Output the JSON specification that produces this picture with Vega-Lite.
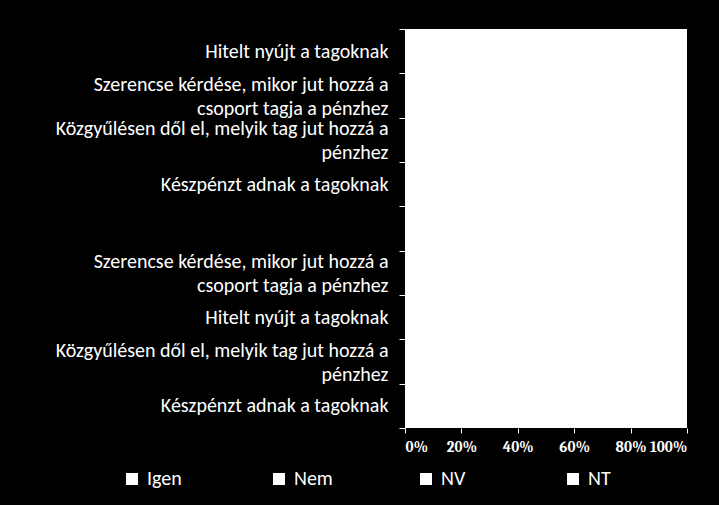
{
  "$schema": "https://vega.github.io/schema/vega-lite/v6.json",
  "width": 282,
  "height": 399,
  "autosize": "none",
  "padding": {"left": 405, "top": 29, "right": 32, "bottom": 77},
  "background": "black",
  "config": {"view": {"fill": "white", "stroke": null}},
  "data": {
    "values": [
      {"kat": "1 Hitelt nyújt a tagoknak", "valasz": "Igen", "ertek": 22},
      {"kat": "1 Hitelt nyújt a tagoknak", "valasz": "Nem", "ertek": 60},
      {"kat": "1 Hitelt nyújt a tagoknak", "valasz": "NV", "ertek": 12},
      {"kat": "1 Hitelt nyújt a tagoknak", "valasz": "NT", "ertek": 6},
      {"kat": "2 Szerencse kérdése, mikor jut hozzá a|csoport tagja a pénzhez", "valasz": "Igen", "ertek": 15},
      {"kat": "2 Szerencse kérdése, mikor jut hozzá a|csoport tagja a pénzhez", "valasz": "Nem", "ertek": 65},
      {"kat": "2 Szerencse kérdése, mikor jut hozzá a|csoport tagja a pénzhez", "valasz": "NV", "ertek": 13},
      {"kat": "2 Szerencse kérdése, mikor jut hozzá a|csoport tagja a pénzhez", "valasz": "NT", "ertek": 7},
      {"kat": "3 Közgyűlésen dől el, melyik tag jut hozzá a|pénzhez", "valasz": "Igen", "ertek": 18},
      {"kat": "3 Közgyűlésen dől el, melyik tag jut hozzá a|pénzhez", "valasz": "Nem", "ertek": 62},
      {"kat": "3 Közgyűlésen dől el, melyik tag jut hozzá a|pénzhez", "valasz": "NV", "ertek": 13},
      {"kat": "3 Közgyűlésen dől el, melyik tag jut hozzá a|pénzhez", "valasz": "NT", "ertek": 7},
      {"kat": "4 Készpénzt adnak a tagoknak", "valasz": "Igen", "ertek": 10},
      {"kat": "4 Készpénzt adnak a tagoknak", "valasz": "Nem", "ertek": 70},
      {"kat": "4 Készpénzt adnak a tagoknak", "valasz": "NV", "ertek": 13},
      {"kat": "4 Készpénzt adnak a tagoknak", "valasz": "NT", "ertek": 7},
      {"kat": "6 Szerencse kérdése, mikor jut hozzá a|csoport tagja a pénzhez", "valasz": "Igen", "ertek": 30},
      {"kat": "6 Szerencse kérdése, mikor jut hozzá a|csoport tagja a pénzhez", "valasz": "Nem", "ertek": 50},
      {"kat": "6 Szerencse kérdése, mikor jut hozzá a|csoport tagja a pénzhez", "valasz": "NV", "ertek": 14},
      {"kat": "6 Szerencse kérdése, mikor jut hozzá a|csoport tagja a pénzhez", "valasz": "NT", "ertek": 6},
      {"kat": "7 Hitelt nyújt a tagoknak", "valasz": "Igen", "ertek": 25},
      {"kat": "7 Hitelt nyújt a tagoknak", "valasz": "Nem", "ertek": 58},
      {"kat": "7 Hitelt nyújt a tagoknak", "valasz": "NV", "ertek": 11},
      {"kat": "7 Hitelt nyújt a tagoknak", "valasz": "NT", "ertek": 6},
      {"kat": "8 Közgyűlésen dől el, melyik tag jut hozzá a|pénzhez", "valasz": "Igen", "ertek": 20},
      {"kat": "8 Közgyűlésen dől el, melyik tag jut hozzá a|pénzhez", "valasz": "Nem", "ertek": 62},
      {"kat": "8 Közgyűlésen dől el, melyik tag jut hozzá a|pénzhez", "valasz": "NV", "ertek": 12},
      {"kat": "8 Közgyűlésen dől el, melyik tag jut hozzá a|pénzhez", "valasz": "NT", "ertek": 6},
      {"kat": "9 Készpénzt adnak a tagoknak", "valasz": "Igen", "ertek": 12},
      {"kat": "9 Készpénzt adnak a tagoknak", "valasz": "Nem", "ertek": 70},
      {"kat": "9 Készpénzt adnak a tagoknak", "valasz": "NV", "ertek": 12},
      {"kat": "9 Készpénzt adnak a tagoknak", "valasz": "NT", "ertek": 6}
    ]
  },
  "mark": {"type": "bar", "height": {"band": 0.55}, "strokeWidth": 0},
  "encoding": {
    "y": {
      "field": "kat",
      "type": "nominal",
      "sort": null,
      "scale": {
        "domain": [
          "1 Hitelt nyújt a tagoknak",
          "2 Szerencse kérdése, mikor jut hozzá a|csoport tagja a pénzhez",
          "3 Közgyűlésen dől el, melyik tag jut hozzá a|pénzhez",
          "4 Készpénzt adnak a tagoknak",
          "5 ",
          "6 Szerencse kérdése, mikor jut hozzá a|csoport tagja a pénzhez",
          "7 Hitelt nyújt a tagoknak",
          "8 Közgyűlésen dől el, melyik tag jut hozzá a|pénzhez",
          "9 Készpénzt adnak a tagoknak"
        ],
        "paddingInner": 0,
        "paddingOuter": 0
      },
      "axis": {
        "title": null,
        "labelExpr": "split(slice(datum.label, 2), '|')",
        "labelColor": "white",
        "labelFont": "Carlito, Liberation Sans Narrow, DejaVu Sans Condensed, sans-serif",
        "labelFontSize": 20,
        "labelLineHeight": 24,
        "labelPadding": 11,
        "labelLimit": 400,
        "labelOffset": {"condition": {"test": "indexof(datum.label, '|') >= 0", "value": -11}, "value": 0},
        "tickColor": "white",
        "tickSize": 6,
        "tickBand": "extent",
        "domain": false
      }
    },
    "x": {
      "field": "ertek",
      "type": "quantitative",
      "stack": "normalize",
      "scale": {"domain": [0, 1], "nice": false},
      "axis": {
        "title": null,
        "format": ".0%",
        "values": [0, 0.2, 0.4, 0.6, 0.8, 1],
        "labelColor": "white",
        "labelFont": "Caladea, Liberation Serif, serif",
        "labelFontWeight": "bold",
        "labelFontSize": 15,
        "labelPadding": 6,
        "tickColor": "white",
        "tickSize": 5,
        "grid": false,
        "domain": false
      }
    },
    "color": {
      "field": "valasz",
      "type": "nominal",
      "scale": {"domain": ["Igen", "Nem", "NV", "NT"], "range": ["white", "white", "white", "white"]},
      "legend": {
        "title": null,
        "orient": "none",
        "legendX": -283,
        "legendY": 440,
        "direction": "horizontal",
        "columns": 4,
        "gridAlign": "all",
        "columnPadding": 83,
        "symbolType": "square",
        "symbolSize": 144,
        "symbolStrokeWidth": 0,
        "labelColor": "white",
        "labelFont": "Carlito, Liberation Sans Narrow, DejaVu Sans Condensed, sans-serif",
        "labelFontSize": 20,
        "labelOffset": 5
      }
    },
    "order": {"field": "valasz_sorrend"}
  }
}
